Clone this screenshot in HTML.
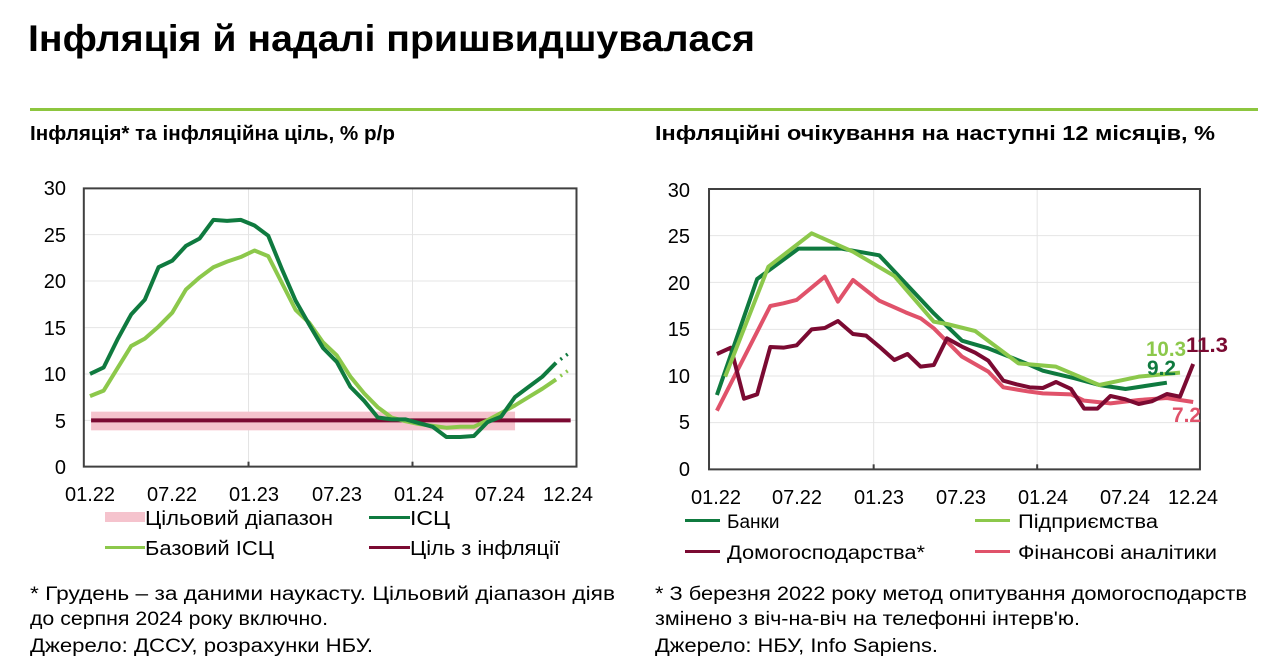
<!DOCTYPE html>
<html><head><meta charset="utf-8"><style>
body{margin:0;background:#fff;width:1280px;height:662px;overflow:hidden;font-family:"Liberation Sans",sans-serif;}
svg{position:absolute;left:0;top:0}
.n{vector-effect:non-scaling-stroke}
</style></head><body>
<svg id="s" width="1280" height="662" xmlns="http://www.w3.org/2000/svg" font-family="Liberation Sans, sans-serif">
<text x="28" y="51" font-size="37" font-weight="bold" fill="#000" textLength="727" lengthAdjust="spacingAndGlyphs">Інфляція й надалі пришвидшувалася</text>
<rect x="30" y="108" width="1228" height="3" fill="#8dc63f"/>
<text x="30" y="140" font-size="20" font-weight="bold" textLength="365" lengthAdjust="spacingAndGlyphs">Інфляція* та інфляційна ціль, % р/р</text>
<text x="655" y="140" font-size="20" font-weight="bold" textLength="560" lengthAdjust="spacingAndGlyphs">Інфляційні очікування на наступні 12 місяців, %</text>

<!-- left chart -->
<g transform="translate(30,170) scale(0.3636,0.33333)">
 <g stroke="#e4e4e4" stroke-width="1" class="n">
  <line class="n" x1="148" x2="1503" y1="194" y2="194"/><line class="n" x1="148" x2="1503" y1="333" y2="333"/>
  <line class="n" x1="148" x2="1503" y1="473" y2="473"/><line class="n" x1="148" x2="1503" y1="612" y2="612"/>
  <line class="n" x1="148" x2="1503" y1="751" y2="751"/>
  <line class="n" x1="601" x2="601" y1="55" y2="890"/><line class="n" x1="1052" x2="1052" y1="55" y2="890"/>
 </g>
 <rect x="168" y="725" width="1166" height="56" fill="#f5c3cd"/>
 <line class="n" x1="168" x2="1487" y1="751" y2="751" stroke="#7b0a32" stroke-width="4"/>
 <polyline class="n" id="lc" fill="none" stroke="#8cc84b" stroke-width="4" stroke-linejoin="round"/>
 <polyline class="n" id="li" fill="none" stroke="#0f7a3f" stroke-width="4" stroke-linejoin="round"/>
 <line class="n" id="lcd" stroke="#8cc84b" stroke-width="3.5" stroke-dasharray="2 5"/>
 <line class="n" id="lid" stroke="#0f7a3f" stroke-width="3.5" stroke-dasharray="2 5"/>
 <rect class="n" x="148" y="55" width="1355" height="835" fill="none" stroke="#404040" stroke-width="2"/>
 <line class="n" x1="601" x2="601" y1="875" y2="890" stroke="#404040" stroke-width="2"/>
 <line class="n" x1="1052" x2="1052" y1="875" y2="890" stroke="#404040" stroke-width="2"/>
</g>
<g font-size="20" text-anchor="end" fill="#000">
 <text x="66" y="195">30</text><text x="66" y="242">25</text><text x="66" y="288">20</text>
 <text x="66" y="335">15</text><text x="66" y="381">10</text><text x="66" y="428">5</text><text x="66" y="474">0</text>
</g>
<g font-size="20" text-anchor="middle">
 <text x="90" y="501">01.22</text><text x="172" y="501">07.22</text><text x="254" y="501">01.23</text>
 <text x="337" y="501">07.23</text><text x="419" y="501">01.24</text><text x="500" y="501">07.24</text><text x="568" y="501">12.24</text>
</g>
<rect x="105" y="512" width="40" height="10" fill="#f5c3cd"/>
<text x="145" y="525" font-size="20" textLength="188" lengthAdjust="spacingAndGlyphs">Цільовий діапазон</text>
<rect x="369" y="516" width="41" height="3" fill="#0f7a3f"/>
<text x="410" y="525" font-size="20" textLength="40" lengthAdjust="spacingAndGlyphs">ІСЦ</text>
<rect x="105" y="546" width="40" height="3" fill="#8cc84b"/>
<text x="145" y="555" font-size="20" textLength="129" lengthAdjust="spacingAndGlyphs">Базовий ІСЦ</text>
<rect x="369" y="546" width="41" height="3" fill="#7b0a32"/>
<text x="410" y="555" font-size="20" textLength="150" lengthAdjust="spacingAndGlyphs">Ціль з інфляції</text>
<g font-size="19">
<text x="30" y="600" textLength="585" lengthAdjust="spacingAndGlyphs">* Грудень – за даними наукасту. Цільовий діапазон діяв</text>
<text x="30" y="625" textLength="298" lengthAdjust="spacingAndGlyphs">до серпня 2024 року включно.</text>
<text x="30" y="652" textLength="343" lengthAdjust="spacingAndGlyphs">Джерело: ДССУ, розрахунки НБУ.</text>
</g>

<!-- right chart -->
<g transform="translate(650,170) scale(0.3759,0.33333)">
 <g stroke="#e4e4e4" stroke-width="1">
  <line class="n" x1="157" x2="1463" y1="197" y2="197"/><line class="n" x1="157" x2="1463" y1="337" y2="337"/>
  <line class="n" x1="157" x2="1463" y1="478" y2="478"/><line class="n" x1="157" x2="1463" y1="618" y2="618"/>
  <line class="n" x1="157" x2="1463" y1="758" y2="758"/>
  <line class="n" x1="595" x2="595" y1="57" y2="898"/><line class="n" x1="1030" x2="1030" y1="57" y2="898"/>
 </g>
 <g fill="none" stroke-width="4" stroke-linejoin="round">
 <polyline class="n" stroke="#e0526a" points="178,722 320,408 355,400 390,390 465,320 500,395 540,330 610,392 680,427 720,445 755,475 830,560 900,605 940,652 1010,665 1045,670 1120,673 1155,692 1225,700 1300,690 1375,684 1445,696"/>
 <polyline class="n" stroke="#7b0a32" points="178,552 215,533 250,686 285,673 320,531 355,533 390,526 430,478 465,474 500,453 540,492 575,497 610,530 650,570 685,552 720,590 755,585 790,505 830,530 865,548 900,572 940,632 975,643 1010,652 1045,654 1080,636 1120,657 1155,716 1190,716 1225,678 1265,688 1300,702 1335,694 1375,672 1410,680 1445,582"/>
 <polyline class="n" stroke="#0f7a3f" points="178,675 285,327 395,236 510,236 610,256 755,430 830,512 900,535 1000,580 1045,602 1130,625 1195,645 1265,657 1375,638"/>
 <polyline class="n" stroke="#8cc84b" points="200,620 315,290 430,190 540,245 650,318 755,455 790,462 865,483 980,580 1080,590 1195,645 1300,620 1410,608"/>
 </g>
 <rect class="n" x="157" y="57" width="1306" height="841" fill="none" stroke="#404040" stroke-width="2"/>
 <line class="n" x1="595" x2="595" y1="883" y2="898" stroke="#404040" stroke-width="2"/>
 <line class="n" x1="1030" x2="1030" y1="883" y2="898" stroke="#404040" stroke-width="2"/>
</g>
<g font-size="20" text-anchor="end">
 <text x="690" y="197">30</text><text x="690" y="243">25</text><text x="690" y="290">20</text>
 <text x="690" y="336">15</text><text x="690" y="383">10</text><text x="690" y="429">5</text><text x="690" y="476">0</text>
</g>
<g font-size="20" text-anchor="middle">
 <text x="716" y="504">01.22</text><text x="797" y="504">07.22</text><text x="879" y="504">01.23</text>
 <text x="961" y="504">07.23</text><text x="1043" y="504">01.24</text><text x="1125" y="504">07.24</text><text x="1193" y="504">12.24</text>
</g>
<g font-size="21" font-weight="bold">
 <text x="1146" y="356" fill="#8cc84b" textLength="40" lengthAdjust="spacingAndGlyphs">10.3</text>
 <text x="1186" y="352" fill="#7b0a32" textLength="42" lengthAdjust="spacingAndGlyphs">11.3</text>
 <text x="1147" y="375" fill="#0f7a3f" textLength="29" lengthAdjust="spacingAndGlyphs">9.2</text>
 <text x="1172" y="422" fill="#e0526a" textLength="29" lengthAdjust="spacingAndGlyphs">7.2</text>
</g>
<rect x="685" y="519" width="35" height="3" fill="#0f7a3f"/>
<text x="727" y="528" font-size="19">Банки</text>
<rect x="975" y="519" width="35" height="3" fill="#8cc84b"/>
<text x="1018" y="528" font-size="19" textLength="140" lengthAdjust="spacingAndGlyphs">Підприємства</text>
<rect x="685" y="550" width="35" height="3" fill="#7b0a32"/>
<text x="727" y="559" font-size="19" textLength="198" lengthAdjust="spacingAndGlyphs">Домогосподарства*</text>
<rect x="975" y="550" width="35" height="3" fill="#e0526a"/>
<text x="1018" y="559" font-size="19" textLength="199" lengthAdjust="spacingAndGlyphs">Фінансові аналітики</text>
<g font-size="19">
<text x="655" y="600" textLength="592" lengthAdjust="spacingAndGlyphs">* З березня 2022 року метод опитування домогосподарств</text>
<text x="655" y="625" textLength="425" lengthAdjust="spacingAndGlyphs">змінено з віч-на-віч на телефонні інтерв'ю.</text>
<text x="655" y="652" textLength="283" lengthAdjust="spacingAndGlyphs">Джерело: НБУ, Info Sapiens.</text>
</g>
</svg>
<script>
var I=[10,10.7,13.7,16.4,18,21.5,22.2,23.8,24.6,26.6,26.5,26.6,26,24.9,21.3,17.9,15.3,12.8,11.3,8.6,7.1,5.3,5.1,5.1,4.7,4.3,3.2,3.2,3.3,4.8,5.4,7.5,8.6,9.7,11.2,12.3];
var C=[7.6,8.2,10.6,13,13.8,15.1,16.6,19.1,20.4,21.5,22.1,22.6,23.3,22.7,19.8,16.9,15.5,13.4,12,9.7,7.9,6.4,5.3,4.9,4.6,4.4,4.2,4.3,4.3,5,5.8,6.6,7.5,8.4,9.4,10.5];
function X(i){return 165+i*37.7}function Y(v){return 890-v*27.83}
function pts(a){var s=[];for(var i=0;i<35;i++)s.push(X(i)+","+Y(a[i]));return s.join(" ")}
document.getElementById("li").setAttribute("points",pts(I));
document.getElementById("lc").setAttribute("points",pts(C));
function d(id,a){var e=document.getElementById(id);e.setAttribute("x1",X(34)+12);e.setAttribute("y1",Y(a[34])-10);e.setAttribute("x2",X(35));e.setAttribute("y2",Y(a[35]));}
d("lid",I);d("lcd",C);
</script>
</body></html>
